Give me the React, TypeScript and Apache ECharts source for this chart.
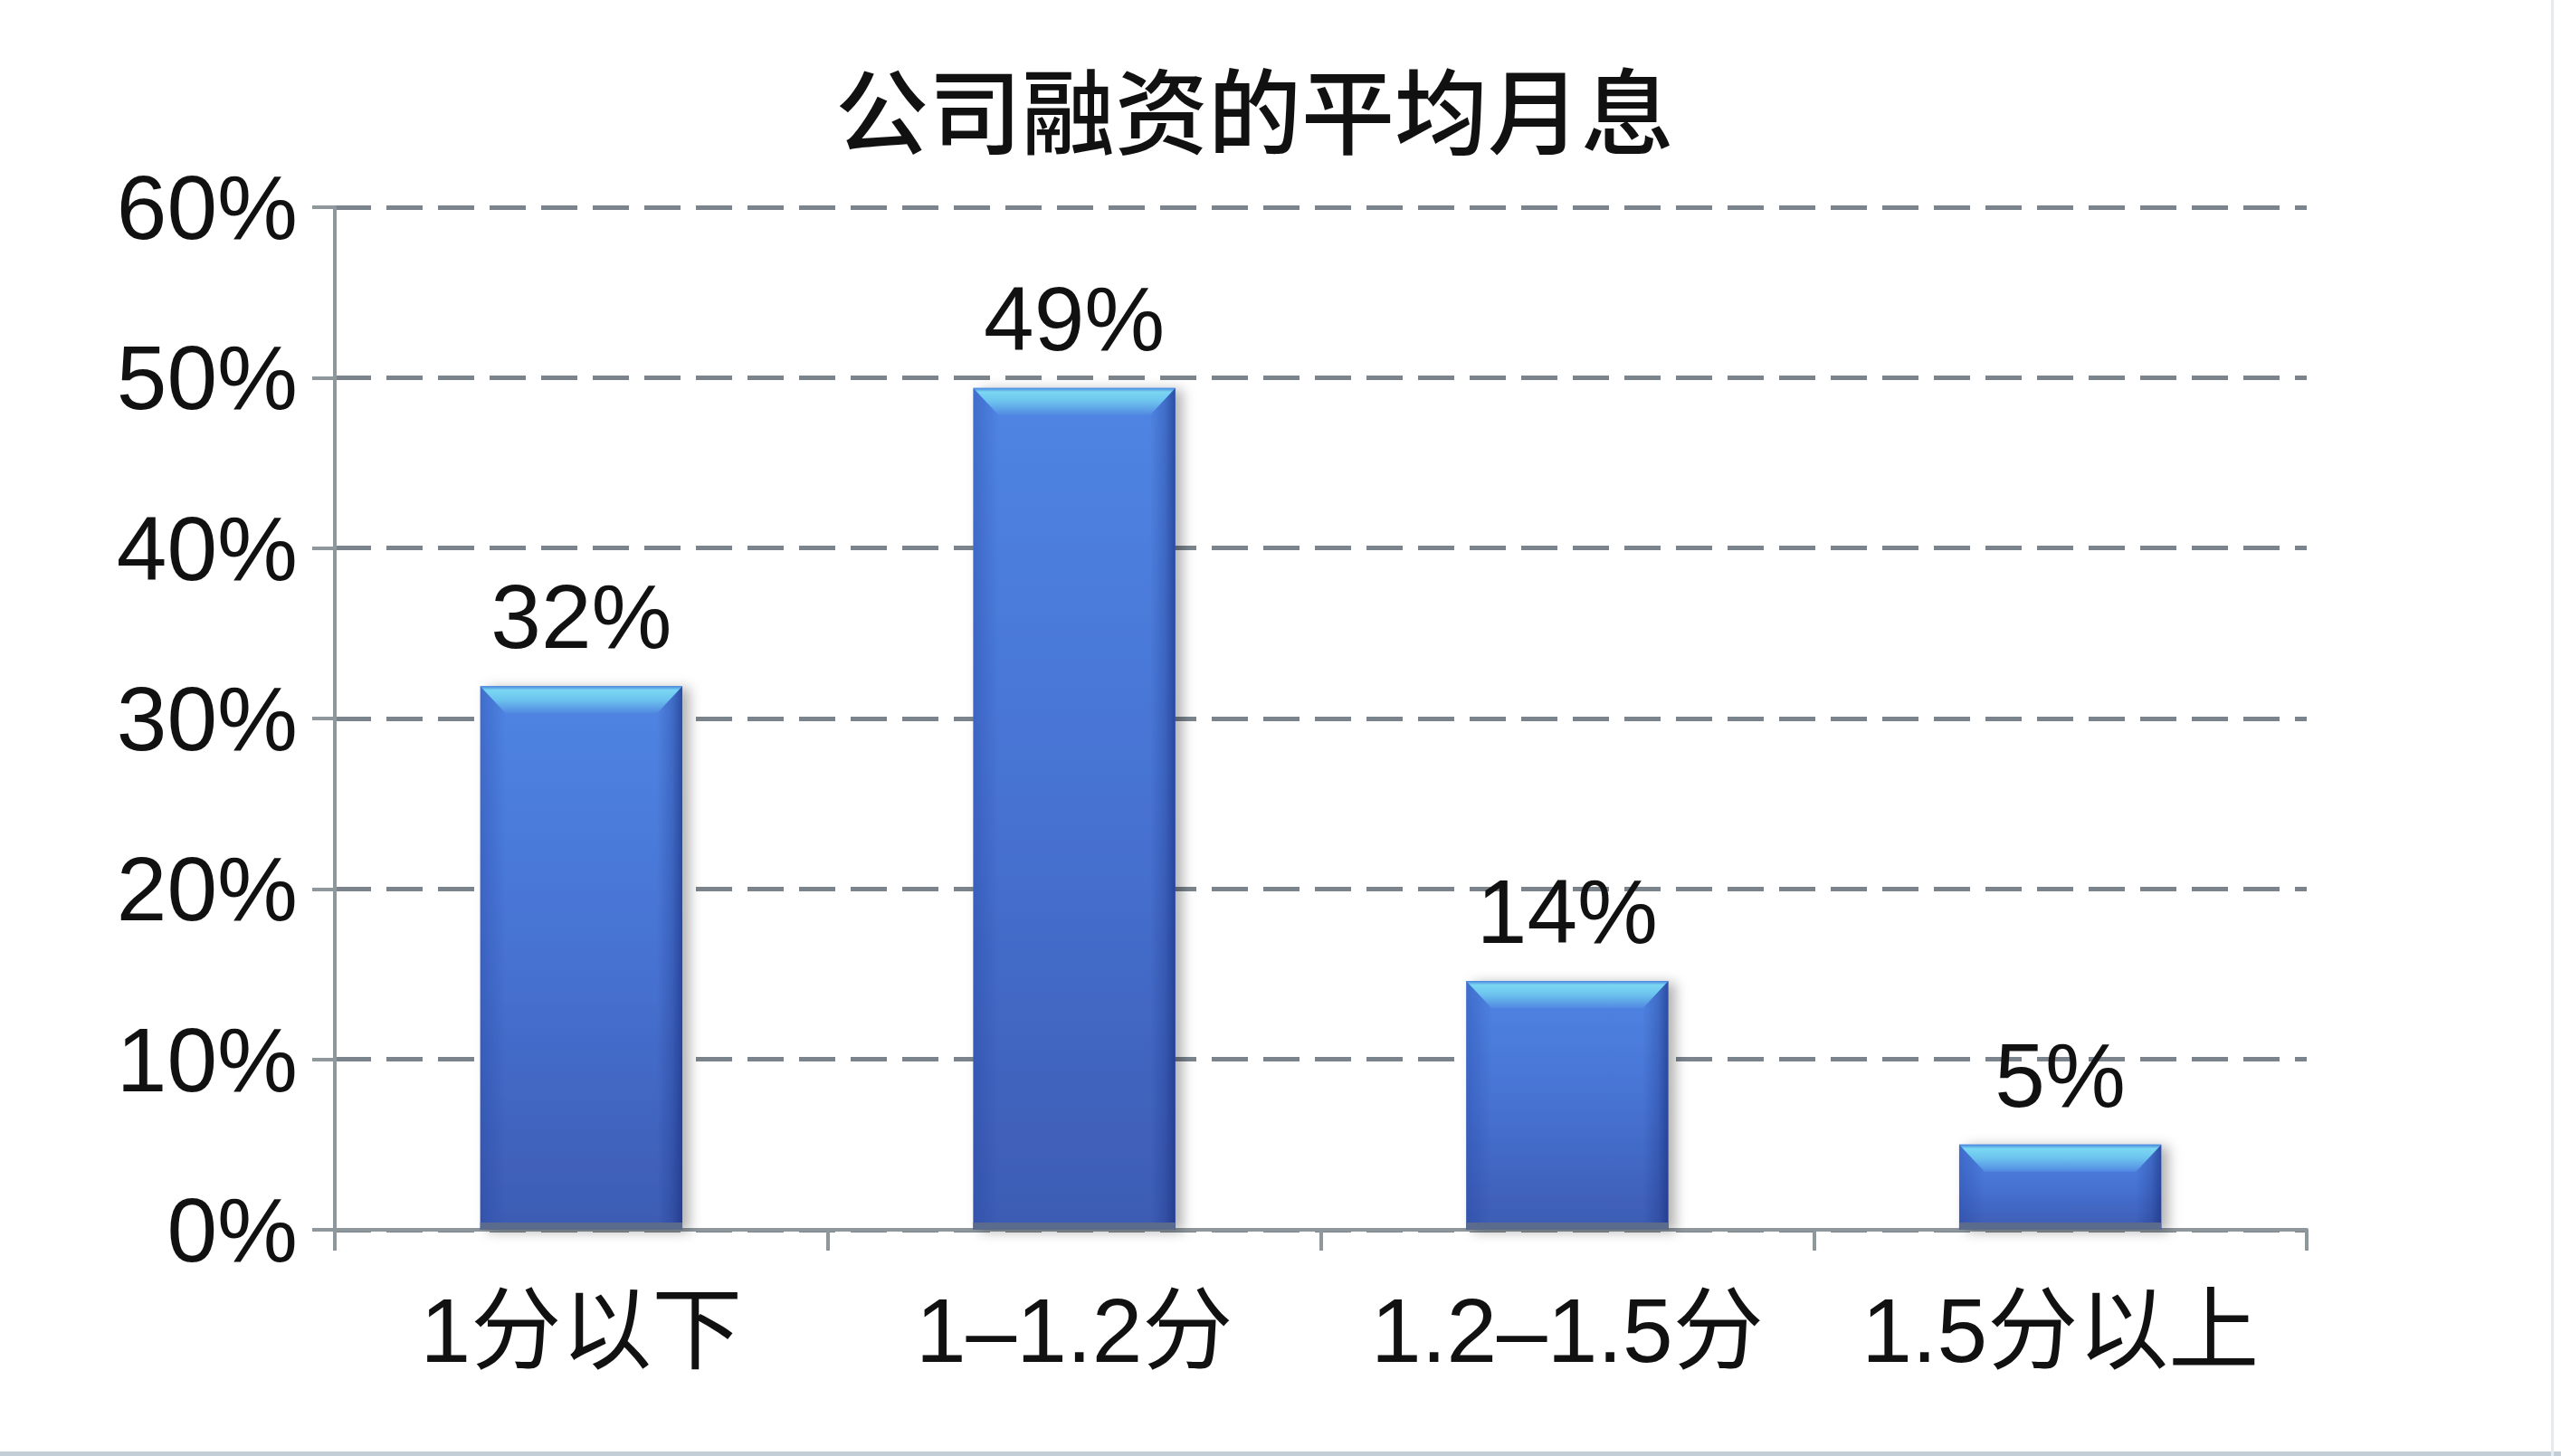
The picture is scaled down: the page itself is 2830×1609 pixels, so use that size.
import React, { useEffect, useRef } from "react";
import * as echarts from "echarts";

const TITLE = "公司融资的平均月息";
const categories = ["1分以下", "1–1.2分", "1.2–1.5分", "1.5分以上"];
const values = [31.9, 49.4, 14.6, 5.0];
const valueLabels = ["32%", "49%", "14%", "5%"];
const yMin = 0;
const yMax = 60;
const yInterval = 10;

const FONT = "'Liberation Sans', Arimo, 'Noto Sans CJK SC', sans-serif";

export default function App() {
  const ref = useRef<HTMLDivElement>(null);

  useEffect(() => {
    const chart = echarts.init(ref.current!, null, { renderer: "svg" });

    const renderItem = (params: any, api: any) => {
      const idx = api.value(0);
      const val = api.value(1);
      const top = api.coord([idx, val]);
      const base = api.coord([idx, 0]);
      const w = api.size([1, 0])[0] * 0.41;
      const x0 = top[0] - w / 2;
      const x1 = top[0] + w / 2;
      const yt = top[1];
      const yb = base[1];
      const h = yb - yt;
      const b = Math.min(30, h / 2);
      const side = 28;
      const bottomH = 8;
      return {
        type: "group",
        children: [
          {
            type: "rect",
            shape: { x: x0, y: yt, width: w, height: h },
            style: {
              fill: new echarts.graphic.LinearGradient(0, 0, 0, 1, [
                { offset: 0, color: "#5085e3" },
                { offset: 0.5, color: "#4672d2" },
                { offset: 1, color: "#3d5cb3" },
              ]),
              shadowBlur: 14,
              shadowOffsetX: 8,
              shadowOffsetY: 2,
              shadowColor: "rgba(0,0,0,0.30)",
            },
          },
          {
            type: "polygon",
            shape: {
              points: [
                [x0, yt],
                [x0 + side, yt + b],
                [x0 + side, yb - bottomH],
                [x0, yb],
              ],
            },
            style: {
              fill: new echarts.graphic.LinearGradient(0, 0, 1, 0, [
                { offset: 0, color: "rgba(35,65,160,0.35)" },
                { offset: 1, color: "rgba(35,65,160,0)" },
              ]),
            },
          },
          {
            type: "polygon",
            shape: {
              points: [
                [x1, yt],
                [x1, yb],
                [x1 - side, yb - bottomH],
                [x1 - side, yt + b],
              ],
            },
            style: {
              fill: new echarts.graphic.LinearGradient(0, 0, 1, 0, [
                { offset: 0, color: "rgba(20,40,120,0)" },
                { offset: 0.6, color: "rgba(20,40,120,0.25)" },
                { offset: 1, color: "rgba(20,40,120,0.6)" },
              ]),
            },
          },
          {
            type: "polygon",
            shape: {
              points: [
                [x0, yt],
                [x1, yt],
                [x1 - side, yt + b],
                [x0 + side, yt + b],
              ],
            },
            style: {
              fill: new echarts.graphic.LinearGradient(0, 0, 0, 1, [
                { offset: 0, color: "#4a86dc" },
                { offset: 0.15, color: "#7ad7f2" },
                { offset: 0.5, color: "#6cc3ee" },
                { offset: 1, color: "#5289e2" },
              ]),
            },
          },
          {
            type: "rect",
            shape: { x: x0, y: yb - bottomH, width: w, height: bottomH },
            style: { fill: "#5a6b8e" },
          },
          {
            type: "text",
            style: {
              text: valueLabels[params.dataIndex],
              x: top[0],
              y: yt - 77,
              align: "center",
              verticalAlign: "middle",
              fontSize: 100,
              fontFamily: FONT,
              fill: "#111111",
            },
          },
        ],
      };
    };

    chart.setOption({
      animation: false,
      backgroundColor: "#ffffff",
      title: {
        text: TITLE,
        left: 918,
        top: 62,
        textStyle: {
          fontSize: 103,
          fontWeight: 500,
          fontFamily: "'Noto Sans CJK SC', sans-serif",
          color: "#111111",
        },
      },
      grid: { left: 370, right: 281, top: 229, bottom: 250, containLabel: false },
      xAxis: {
        type: "category",
        data: categories,
        boundaryGap: true,
        axisLine: { show: true, lineStyle: { color: "#8e979c", width: 4 } },
        axisTick: {
          show: true,
          interval: 0,
          length: 23,
          alignWithLabel: false,
          lineStyle: { color: "#8e979c", width: 4 },
        },
        axisLabel: {
          interval: 0,
          hideOverlap: false,
          margin: 111,
          verticalAlign: "middle",
          fontSize: 100,
          fontFamily: FONT,
          color: "#111111",
        },
        splitLine: { show: false },
      },
      yAxis: {
        type: "value",
        min: yMin,
        max: yMax,
        interval: yInterval,
        axisLine: { show: true, lineStyle: { color: "#8e979c", width: 4 } },
        axisTick: { show: true, length: 25, lineStyle: { color: "#8e979c", width: 4 } },
        axisLabel: {
          formatter: "{value}%",
          margin: 41,
          fontSize: 100,
          fontFamily: FONT,
          color: "#111111",
        },
        splitLine: {
          show: true,
          lineStyle: { color: "#7b848c", width: 5, type: [40, 17] },
        },
      },
      series: [
        {
          type: "custom",
          renderItem,
          data: values.map((v, i) => [i, v]),
          z: 3,
        },
      ],
      graphic: [
        {
          type: "rect",
          shape: { x: 0, y: 1604, width: 2830, height: 5 },
          style: { fill: "#c3ced6" },
          silent: true,
        },
        {
          type: "rect",
          shape: { x: 2819, y: 0, width: 3, height: 1609 },
          style: { fill: "#e4eaee" },
          silent: true,
        },
      ],
    });

    return () => chart.dispose();
  }, []);

  return (
    <div
      ref={ref}
      style={{ position: "absolute", left: 0, top: 0, width: 2830, height: 1609 }}
    />
  );
}
